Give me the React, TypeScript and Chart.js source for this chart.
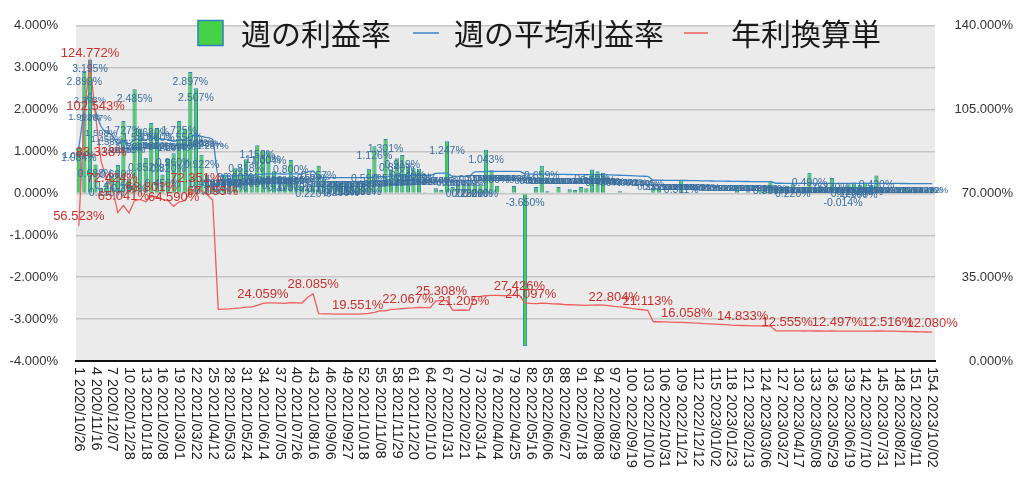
import React, { useEffect, useRef } from 'react';
import { Chart, registerables } from 'chart.js';

Chart.register(...registerables);

const WEEKS: number[] = Array.from({ length: 154 }, (_, i) => i + 1);

const TICK_LABELS: string[] = [
  '1 2020/10/26', '4 2020/11/16', '7 2020/12/07', '10 2020/12/28', '13 2021/01/18', '16 2021/02/08',
  '19 2021/03/01', '22 2021/03/22', '25 2021/04/12', '28 2021/05/03', '31 2021/05/24', '34 2021/06/14',
  '37 2021/07/05', '40 2021/07/26', '43 2021/08/16', '46 2021/09/06', '49 2021/09/27', '52 2021/10/18',
  '55 2021/11/08', '58 2021/11/29', '61 2021/12/20', '64 2022/01/10', '67 2022/01/31', '70 2022/02/21',
  '73 2022/03/14', '76 2022/04/04', '79 2022/04/25', '82 2022/05/16', '85 2022/06/06', '88 2022/06/27',
  '91 2022/07/18', '94 2022/08/08', '97 2022/08/29', '100 2022/09/19', '103 2022/10/10', '106 2022/10/31',
  '109 2022/11/21', '112 2022/12/12', '115 2023/01/02', '118 2023/01/23', '121 2023/02/13', '124 2023/03/06',
  '127 2023/03/27', '130 2023/04/17', '133 2023/05/08', '136 2023/05/29', '139 2023/06/19', '142 2023/07/10',
  '145 2023/07/31', '148 2023/08/21', '151 2023/09/11', '154 2023/10/02',
];

// 週の利益率 (%)
const WEEKLY_RATE: (number | null)[] = [
  1.084, 2.899, 3.195, 0.688, 0.125, 0.25, 0.42, 0.68, 1.727, 0.35,
  2.485, 1.55, 0.852, 1.68, 1.56, 0.45, 0.82, 0.96, 1.725, 1.55,
  2.897, 2.507, 0.922, 0.45, 0.30, 0.10, 0.45, 0.37, 0.60, 0.60,
  0.818, 0.45, 1.15, 1.03, 1.004, 0.53, 0.41, 0.37, 0.80, 0.37,
  0.18, 0.12, 0.22, 0.657, 0.35, 0.18, 0.30, 0.25, 0.28, 0.26,
  0.30, 0.28, 0.59, 1.126, 0.18, 1.301, 0.57, 0.84, 0.919, 0.64,
  0.60, 0.589, 0.03, null, 0.12, 0.08, 1.247, 0.15, 0.18, 0.22,
  0.23, 0.22, 0.22, 1.043, 0.550, 0.18, 0.02, null, 0.179, null,
  -3.650, null, 0.15, 0.659, 0.05, 0.02, 0.15, null, 0.10, 0.08,
  0.15, 0.12, 0.57, 0.53, 0.49, null, null, 0.05, 0.02, null,
  null, null, null, 0.14, 0.14, null, null, null, 0.311, null,
  null, null, null, null, null, null, null, null, 0.08, null,
  0.05, null, 0.08, 0.06, 0.30, 0.10, 0.15, 0.18, 0.22, 0.10,
  0.15, 0.49, 0.12, 0.18, 0.10, 0.37, 0.15, -0.014, 0.22, 0.26,
  0.20, 0.26, 0.18, 0.43, 0.12, 0.08, 0.00, 0.10, 0.15, 0.08,
  0.12, 0.10, 0.08, 0.127,
];

// 週の平均利益率 (%)
const AVG_RATE: number[] = [
  1.084, 1.992, 2.393, 1.967, 1.598, 1.458, 1.389, 1.189, 1.247, 1.185,
  1.285, 1.295, 1.275, 1.320, 1.314, 1.295, 1.285, 1.239, 1.275, 1.285,
  1.352, 1.388, 1.362, 1.333, 1.287, 0.414, 0.416, 0.418, 0.422, 0.426,
  0.432, 0.433, 0.445, 0.461, 0.466, 0.466, 0.464, 0.462, 0.468, 0.466,
  0.464, 0.508, 0.539, 0.380, 0.378, 0.378, 0.376, 0.376, 0.376, 0.375,
  0.375, 0.378, 0.382, 0.389, 0.401, 0.401, 0.414, 0.416, 0.420, 0.423,
  0.426, 0.430, 0.428, 0.428, 0.479, 0.485, 0.483, 0.409, 0.407, 0.407,
  0.409, 0.516, 0.518, 0.524, 0.526, 0.526, 0.524, 0.524, 0.526, 0.526,
  0.466, 0.462, 0.460, 0.464, 0.462, 0.458, 0.456, 0.453, 0.451, 0.449,
  0.447, 0.445, 0.447, 0.449, 0.447, 0.443, 0.437, 0.433, 0.430, 0.422,
  0.416, 0.410, 0.405, 0.315, 0.315, 0.313, 0.311, 0.309, 0.309, 0.308,
  0.305, 0.303, 0.299, 0.297, 0.295, 0.293, 0.292, 0.288, 0.286, 0.284,
  0.284, 0.282, 0.282, 0.280, 0.280, 0.242, 0.242, 0.241, 0.241, 0.241,
  0.240, 0.241, 0.240, 0.240, 0.240, 0.240, 0.240, 0.239, 0.239, 0.239,
  0.239, 0.240, 0.240, 0.240, 0.240, 0.240, 0.239, 0.237, 0.236, 0.235,
  0.234, 0.233, 0.232, 0.232,
];

// 年利換算単 (%)
const ANNUAL_RATE: number[] = [
  56.523, 103.84, 124.772, 102.543, 83.338, 76.0, 72.424, 62.0, 65.041, 61.8,
  67.0, 67.5, 66.5, 68.801, 68.5, 67.5, 67.0, 64.590, 66.5, 67.0,
  70.5, 72.351, 71.0, 69.5, 67.095, 21.6, 21.7, 21.8, 22.0, 22.2,
  22.5, 22.6, 23.2, 24.059, 24.3, 24.3, 24.2, 24.1, 24.4, 24.3,
  24.2, 26.5, 28.085, 19.8, 19.7, 19.7, 19.6, 19.6, 19.6, 19.55,
  19.551, 19.7, 19.9, 20.3, 20.9, 20.9, 21.6, 21.7, 21.9, 22.067,
  22.2, 22.4, 22.3, 22.3, 25.0, 25.308, 25.2, 21.3, 21.2, 21.205,
  21.3, 26.9, 27.0, 27.3, 27.4, 27.4, 27.3, 27.3, 27.4, 27.426,
  24.3, 24.097, 24.0, 24.2, 24.1, 23.9, 23.8, 23.6, 23.5, 23.4,
  23.3, 23.2, 23.3, 23.4, 23.3, 23.1, 22.804, 22.6, 22.4, 22.0,
  21.7, 21.4, 21.113, 16.4, 16.4, 16.3, 16.2, 16.1, 16.1, 16.058,
  15.9, 15.8, 15.6, 15.5, 15.4, 15.3, 15.2, 15.0, 14.9, 14.833,
  14.8, 14.7, 14.7, 14.6, 14.6, 12.6, 12.6, 12.555, 12.55, 12.55,
  12.52, 12.55, 12.53, 12.52, 12.5, 12.52, 12.497, 12.45, 12.46, 12.47,
  12.48, 12.49, 12.5, 12.53, 12.52, 12.516, 12.45, 12.38, 12.32, 12.27,
  12.22, 12.17, 12.12, 12.080,
];

// weeks whose 年利換算単 value is labelled
const ANNUAL_LABEL_WEEKS: number[] = [
  1, 3, 4, 5, 7, 9, 14, 18, 22, 25, 34, 43, 51, 60, 66, 70, 80, 82, 97, 103, 110, 120, 128, 137, 146, 154,
];

const SERIES_NAMES = ['週の利益率', '週の平均利益率', '年利換算単'];

const BAR_FILL = '#47d147';
const BAR_BORDER = '#2d7fc1';
const AVG_COLOR = '#3a86c8';
const ANNUAL_COLOR = '#f25c5c';
const FONT = '"Liberation Sans", Arial, sans-serif';

const fmt = (v: number) => v.toFixed(3) + '%';

const bgPlugin = {
  id: 'bgPlugin',
  beforeDraw(chart: any) {
    const { ctx, chartArea: a } = chart;
    ctx.save();
    ctx.fillStyle = '#ebebeb';
    ctx.fillRect(a.left, a.top, a.right - a.left, a.bottom - a.top);
    ctx.restore();
  },
};

const labelPlugin = {
  id: 'labelPlugin',
  afterDatasetsDraw(chart: any) {
    const { ctx } = chart;
    const x = chart.scales.x;
    const y = chart.scales.y;
    const y2 = chart.scales.y2;
    ctx.save();
    ctx.textAlign = 'center';
    ctx.textBaseline = 'middle';
    // bar labels (tiny positive bars carry no visible label)
    ctx.font = `10.5px ${FONT}`;
    ctx.fillStyle = '#3b6f9e';
    WEEKLY_RATE.forEach((v, i) => {
      if (v === null) return;
      if (v >= 0 && v < 0.2) return;
      const px = x.getPixelForValue(i);
      const py = y.getPixelForValue(Math.max(v, 0)) + 10;
      ctx.fillText(fmt(v), px, py);
    });
    // average labels
    ctx.font = `9.5px ${FONT}`;
    AVG_RATE.forEach((v, i) => {
      const px = x.getPixelForValue(i);
      const py = y.getPixelForValue(v) + 7;
      ctx.fillText(fmt(v), px, py);
    });
    // annual labels
    ctx.font = `13px ${FONT}`;
    ctx.fillStyle = '#c9302c';
    ANNUAL_LABEL_WEEKS.forEach((w) => {
      const i = w - 1;
      const v = ANNUAL_RATE[i];
      ctx.fillText(fmt(v), x.getPixelForValue(i), y2.getPixelForValue(v) - 9);
    });
    ctx.restore();
  },
};

const axisLabelPlugin = {
  id: 'axisLabelPlugin',
  afterDraw(chart: any) {
    const { ctx } = chart;
    const x = chart.scales.x;
    ctx.save();
    ctx.font = `14.5px ${FONT}`;
    ctx.fillStyle = '#222';
    ctx.textAlign = 'left';
    ctx.textBaseline = 'middle';
    TICK_LABELS.forEach((t, k) => {
      const px = x.getPixelForValue(k * 3);
      ctx.save();
      ctx.translate(px, chart.chartArea.bottom + 6);
      ctx.rotate(Math.PI / 2);
      ctx.fillText(t, 0, 0);
      ctx.restore();
    });
    ctx.restore();
  },
};

const legendPlugin = {
  id: 'legendPlugin',
  afterDraw(chart: any) {
    const { ctx } = chart;
    ctx.save();
    ctx.font = '30px "Noto Sans CJK JP", sans-serif';
    ctx.textBaseline = 'middle';
    ctx.textAlign = 'left';
    const cy = 33;
    ctx.fillStyle = BAR_FILL;
    ctx.fillRect(198, 20.5, 25, 25);
    ctx.strokeStyle = BAR_BORDER;
    ctx.lineWidth = 1.5;
    ctx.strokeRect(198, 20.5, 25, 25);
    ctx.fillStyle = '#1a1a1a';
    ctx.fillText(SERIES_NAMES[0], 241, cy + 1);
    ctx.strokeStyle = AVG_COLOR;
    ctx.lineWidth = 1.5;
    ctx.beginPath();
    ctx.moveTo(413, cy);
    ctx.lineTo(439, cy);
    ctx.stroke();
    ctx.fillText(SERIES_NAMES[1], 454, cy + 1);
    ctx.strokeStyle = ANNUAL_COLOR;
    ctx.beginPath();
    ctx.moveTo(684, cy);
    ctx.lineTo(708, cy);
    ctx.stroke();
    ctx.fillText(SERIES_NAMES[2], 731, cy + 1);
    ctx.restore();
  },
};

export default function App() {
  const ref = useRef<HTMLCanvasElement | null>(null);

  useEffect(() => {
    if (!ref.current) return;
    Chart.defaults.font.family = FONT;
    const chart = new Chart(ref.current, {
      type: 'bar',
      data: {
        labels: WEEKS.map(String),
        datasets: [
          {
            type: 'bar',
            label: SERIES_NAMES[0],
            data: WEEKLY_RATE,
            backgroundColor: BAR_FILL,
            borderColor: BAR_BORDER,
            borderWidth: 1,
            barPercentage: 0.75,
            categoryPercentage: 1,
            yAxisID: 'y',
            order: 3,
          } as any,
          {
            type: 'line',
            label: SERIES_NAMES[1],
            data: AVG_RATE,
            borderColor: AVG_COLOR,
            borderWidth: 1.3,
            pointRadius: 0,
            cubicInterpolationMode: 'monotone',
            yAxisID: 'y',
            order: 2,
          } as any,
          {
            type: 'line',
            label: SERIES_NAMES[2],
            data: ANNUAL_RATE,
            borderColor: ANNUAL_COLOR,
            borderWidth: 1.3,
            pointRadius: 0,
            tension: 0,
            yAxisID: 'y2',
            order: 1,
          } as any,
        ],
      },
      options: {
        responsive: false,
        animation: false,
        layout: { padding: { top: 17, left: 0, right: 11, bottom: 0 } },
        plugins: {
          legend: { display: false },
          tooltip: { enabled: false },
        },
        scales: {
          x: {
            type: 'category',
            offset: true,
            grid: { display: false },
            border: { display: true, color: '#111', width: 2 },
            ticks: { display: false },
            afterFit: (s: any) => {
              s.height = 119;
            },
          },
          y: {
            position: 'left',
            min: -4,
            max: 4,
            ticks: {
              stepSize: 1,
              padding: 18,
              color: '#333',
              font: { size: 13, family: FONT },
              callback: (v: any) => Number(v).toFixed(3) + '%',
            },
            grid: {
              drawTicks: false,
              color: (c: any) => (c.tick && c.tick.value === -4 ? '#111' : '#c6c6c6'),
              lineWidth: (c: any) => (c.tick && c.tick.value === -4 ? 2 : 1.5),
            },
            border: { display: false },
            afterFit: (s: any) => {
              s.width = 76;
            },
          },
          y2: {
            position: 'right',
            min: 0,
            max: 140,
            ticks: {
              stepSize: 35,
              crossAlign: 'far',
              color: '#333',
              font: { size: 13, family: FONT },
              callback: (v: any) => Number(v).toFixed(3) + '%',
            },
            grid: { display: false, drawTicks: false },
            border: { display: false },
            afterFit: (s: any) => {
              s.width = 78;
            },
          },
        },
      } as any,
      plugins: [bgPlugin, labelPlugin, axisLabelPlugin, legendPlugin],
    });
    return () => chart.destroy();
  }, []);

  return (
    <div style={{ position: 'fixed', left: 0, top: 0, width: 1024, height: 480, background: '#fff' }}>
      <canvas ref={ref} width={1024} height={480} style={{ width: 1024, height: 480, display: 'block' }} />
    </div>
  );
}
